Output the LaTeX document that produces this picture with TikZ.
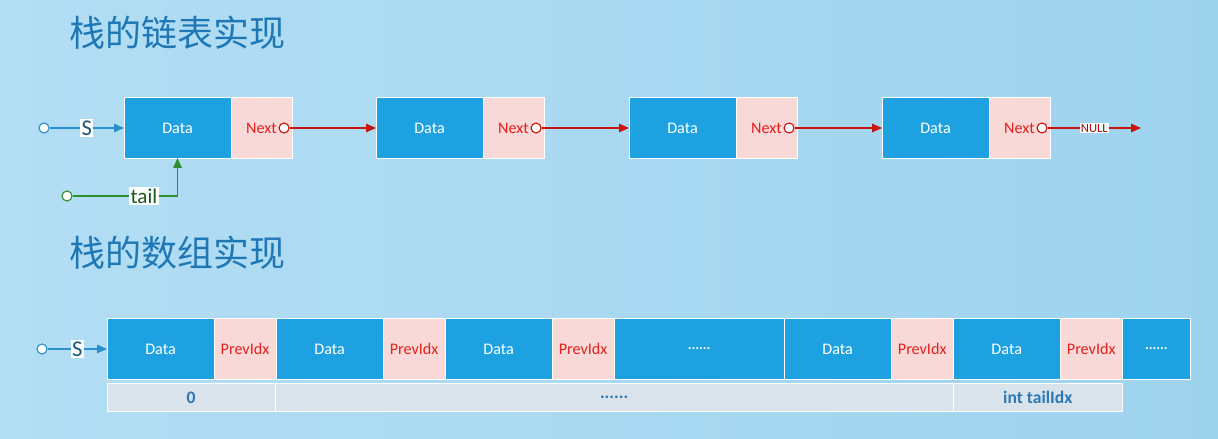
\documentclass[tikz,border=0pt]{standalone}
\usepackage{fontspec}
\setmainfont{Carlito}
\newfontfamily\cjk{Noto Sans CJK SC}
\usetikzlibrary{arrows.meta,positioning}
\definecolor{bgl}{HTML}{B3DEF4}
\definecolor{bgr}{HTML}{9ED3EE}
\definecolor{datablue}{HTML}{1DA1E1}
\definecolor{nextpink}{HTML}{F9D8D8}
\definecolor{nextred}{HTML}{E3211D}
\definecolor{linkred}{HTML}{C8140F}
\definecolor{idxgray}{HTML}{DAE3EC}
\definecolor{idxblue}{HTML}{2B78B4}
\definecolor{titleblue}{HTML}{1F78B6}
\definecolor{sblue}{HTML}{2A8FCF}
\definecolor{tailgreen}{HTML}{2F8F2F}
\tikzset{>={Triangle[length=7pt,width=6pt]},every node/.style={font=\fontsize{11.5}{13}\selectfont},
  databox/.style={draw=white,line width=.7pt,fill=datablue,text=white,minimum height=1.5cm,minimum width=2.675cm,inner sep=0pt,outer sep=0pt},
  nextbox/.style={draw=white,line width=.7pt,fill=nextpink,text=nextred,minimum height=1.5cm,minimum width=1.525cm,inner sep=0pt,outer sep=0pt},
  idxbox/.style={draw=white,line width=.7pt,fill=idxgray,text=idxblue,minimum height=.7cm,inner sep=0pt,outer sep=0pt,font=\fontsize{12.5}{14}\selectfont\bfseries},
  dots/.style={databox,font=\fontsize{10}{11}\selectfont\bfseries},
  title/.style={text=titleblue,font=\fontsize{25.6}{28}\selectfont\cjk,anchor=west,inner sep=0pt},
  hole/.style={circle,draw,fill=white,line width=.8pt,minimum size=.25cm,inner sep=0pt},
  link/.style={linkred,line width=.9pt,->},
  slink/.style={sblue,line width=.9pt,->},
  taillink/.style={tailgreen,line width=.9pt,->},
  lab/.style={fill=white,inner sep=1pt}}

\begin{document}
\begin{tikzpicture}[x=0.025cm,y=-0.025cm]
\useasboundingbox (0,0) rectangle (1218,439);
\shade[left color=bgl,right color=bgr] (0,0) rectangle (1218,439);

% linked list
\node[title] (title1) at (69,33) {栈的链表实现};
\foreach \i/\x in {1/124,2/376,3/629,4/882}{
  \node[databox,anchor=west] (d\i) at (\x,128) {Data};
  \node[nextbox,right=0pt of d\i] (n\i) {Next};
  \node[hole,draw=linkred] (h\i) at ([xshift=-.2cm]n\i.east) {};
}
\draw[link] (h1) -- (d2);
\draw[link] (h2) -- (d3);
\draw[link] (h3) -- (d4);
\coordinate (nullend) at (1141,128);
\draw[link] (h4) -- node[lab,text=linkred!80!black,font=\fontsize{9}{10}\selectfont,inner sep=.6pt]{NULL} (nullend);

\node[hole,draw=sblue] (s1) at (44,128) {};
\draw[slink] (s1) -- node[lab,text=sblue!60!black,font=\fontsize{16}{18}\selectfont]{S} (d1);
\node[hole,draw=tailgreen] (t1) at (67,196) {};
\draw[taillink] (t1) -| node[pos=.34,lab,text=tailgreen!60!black,font=\fontsize{15}{17}\selectfont]{tail} (d1.south);

% array
\node[title] (title2) at (69,253) {栈的数组实现};
\node[databox,anchor=west,minimum height=1.525cm] (a1) at (107,349) {Data};
\node[nextbox,right=0pt of a1,minimum width=1.55cm,minimum height=1.525cm] (p1) {PrevIdx};
\node[databox,right=0pt of p1,minimum height=1.525cm] (a2) {Data};
\node[nextbox,right=0pt of a2,minimum width=1.55cm,minimum height=1.525cm] (p2) {PrevIdx};
\node[databox,right=0pt of p2,minimum height=1.525cm] (a3) {Data};
\node[nextbox,right=0pt of a3,minimum width=1.55cm,minimum height=1.525cm] (p3) {PrevIdx};
\node[dots,right=0pt of p3,minimum width=4.25cm,minimum height=1.525cm] (e1) {......};
\node[databox,right=0pt of e1,minimum height=1.525cm] (a4) {Data};
\node[nextbox,right=0pt of a4,minimum width=1.55cm,minimum height=1.525cm] (p4) {PrevIdx};
\node[databox,right=0pt of p4,minimum height=1.525cm] (a5) {Data};
\node[nextbox,right=0pt of a5,minimum width=1.55cm,minimum height=1.525cm] (p5) {PrevIdx};
\node[dots,right=0pt of p5,minimum width=1.7cm,minimum height=1.525cm] (e2) {......};

\node[idxbox,anchor=north west,minimum width=4.2cm] (i0) at ([yshift=-.1cm]a1.south west) {0};
\node[idxbox,right=0pt of i0,minimum width=16.95cm] (i1) {......};
\node[idxbox,right=0pt of i1,minimum width=4.225cm] (i2) {int tailIdx};

\node[hole,draw=sblue] (s2) at (42,349) {};
\draw[slink] (s2) -- node[lab,text=sblue!60!black,font=\fontsize{16}{18}\selectfont]{S} (a1);
\end{tikzpicture}
\end{document}
